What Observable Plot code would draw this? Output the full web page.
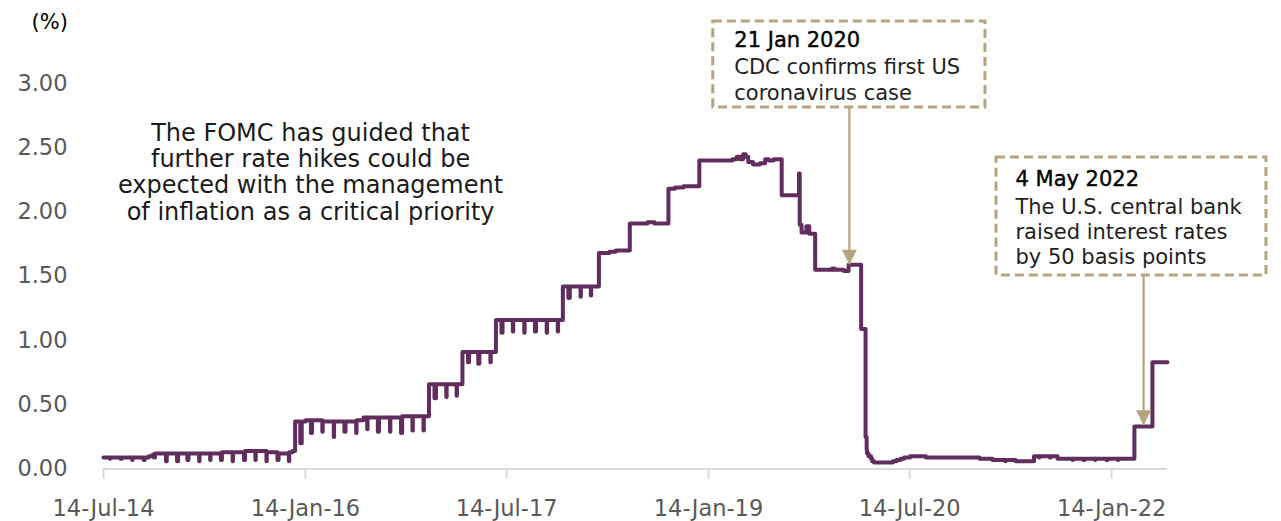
<!DOCTYPE html>
<html><head><meta charset="utf-8">
<script src="https://cdn.jsdelivr.net/npm/d3@7"></script>
<script src="https://cdn.jsdelivr.net/npm/@observablehq/plot@0.6"></script>
<style>
html,body{margin:0;padding:0;background:#fff;}
#chart svg{display:block;}
</style></head><body><div id="chart"></div>
<script>
// ---- data: effective federal funds rate (%), change points (step-after) ----
const dates = [
"2014-07-14","2014-07-31","2014-08-01","2014-08-29","2014-09-02","2014-09-30","2014-10-01","2014-10-31","2014-11-03","2014-11-14","2014-11-24","2014-11-28","2014-12-01","2014-12-31",
"2015-01-02","2015-01-30","2015-02-02","2015-02-27","2015-03-02","2015-03-31","2015-04-01","2015-04-30","2015-05-01","2015-05-29","2015-06-01","2015-06-30","2015-07-01","2015-07-31","2015-08-03","2015-08-31","2015-09-01","2015-09-30","2015-10-01","2015-10-30","2015-11-02","2015-11-30","2015-12-01","2015-12-10","2015-12-17","2015-12-31",
"2016-01-04","2016-01-15","2016-01-29","2016-02-01","2016-02-29","2016-03-01","2016-03-31","2016-04-01","2016-04-29","2016-05-02","2016-05-31","2016-06-01","2016-06-20","2016-06-30","2016-07-01","2016-07-29","2016-08-01","2016-08-31","2016-09-01","2016-09-30","2016-10-03","2016-10-31","2016-11-01","2016-11-30","2016-12-01","2016-12-15","2016-12-30",
"2017-01-03","2017-01-31","2017-02-01","2017-02-28","2017-03-01","2017-03-16","2017-03-31","2017-04-03","2017-04-28","2017-05-01","2017-05-31","2017-06-01","2017-06-15","2017-06-30","2017-07-03","2017-07-31","2017-08-01","2017-08-31","2017-09-01","2017-09-29","2017-10-02","2017-10-31","2017-11-01","2017-11-30","2017-12-01","2017-12-14","2017-12-29",
"2018-01-02","2018-01-31","2018-02-01","2018-02-28","2018-03-01","2018-03-22","2018-04-20","2018-05-07","2018-06-14","2018-08-01","2018-08-20","2018-09-27","2018-10-15","2018-11-07","2018-12-20",
"2019-03-20","2019-04-01","2019-04-10","2019-04-18","2019-04-25","2019-05-02","2019-05-15","2019-06-03","2019-06-17","2019-06-27","2019-07-10","2019-08-01","2019-09-17","2019-09-19","2019-09-24","2019-10-07","2019-10-15","2019-10-31","2019-12-16","2019-12-23",
"2020-01-17","2020-01-30","2020-03-04","2020-03-16","2020-03-19","2020-03-20","2020-03-24","2020-03-31","2020-04-03","2020-04-08","2020-05-29","2020-06-08","2020-06-19","2020-06-29","2020-07-15","2020-08-27",
"2021-01-20","2021-02-24","2021-03-31","2021-04-01","2021-04-28","2021-06-17","2021-07-01","2021-07-02","2021-07-30","2021-08-02","2021-08-20","2021-09-30","2021-10-01","2021-10-29","2021-11-01","2021-11-30","2021-12-01","2021-12-31",
"2022-01-03","2022-01-31","2022-02-01","2022-03-17","2022-05-05","2022-06-15"
];
const rates = [
0.09,0.08,0.09,0.08,0.09,0.07,0.09,0.07,0.09,0.10,0.11,0.09,0.12,0.06,
0.12,0.06,0.12,0.07,0.12,0.06,0.12,0.07,0.12,0.07,0.13,0.06,0.13,0.07,0.14,0.07,0.14,0.06,0.13,0.07,0.12,0.06,0.13,0.14,0.37,0.20,
0.37,0.38,0.28,0.38,0.29,0.37,0.25,0.37,0.29,0.37,0.28,0.38,0.40,0.31,0.40,0.29,0.40,0.29,0.40,0.28,0.41,0.30,0.41,0.30,0.41,0.66,0.55,
0.66,0.56,0.66,0.57,0.66,0.91,0.83,0.91,0.82,0.91,0.83,0.91,1.16,1.06,1.16,1.07,1.16,1.06,1.16,1.07,1.16,1.06,1.16,1.07,1.16,1.42,1.33,
1.42,1.34,1.42,1.35,1.42,1.68,1.69,1.70,1.91,1.92,1.91,2.18,2.19,2.20,2.40,
2.41,2.43,2.41,2.45,2.43,2.39,2.37,2.38,2.41,2.40,2.41,2.13,2.30,1.90,1.84,1.89,1.83,1.55,1.56,1.55,
1.54,1.59,1.09,0.25,0.15,0.12,0.10,0.08,0.06,0.05,0.06,0.07,0.08,0.09,0.10,0.09,
0.08,0.07,0.06,0.07,0.06,0.10,0.09,0.10,0.09,0.10,0.08,0.07,0.08,0.07,0.08,0.07,0.08,0.07,
0.08,0.07,0.08,0.33,0.83,0.83
];
const xTickDates = ["2014-07-14","2016-01-14","2017-07-14","2019-01-14","2020-07-14","2022-01-14"];
const yTickValues = [0, 0.5, 1, 1.5, 2, 2.5, 3];
const yUnit = "(%)";
const commentLines = ["The FOMC has guided that","further rate hikes could be","expected with the management","of inflation as a critical priority"];
const eventTitles = ["21 Jan 2020", "4 May 2022"];
const eventBodies = [["CDC confirms first US","coronavirus case"], ["The U.S. central bank","raised interest rates","by 50 basis points"]];

// ---- layout (annotation placement, in data coordinates) ----
const parse = d3.utcParse("%Y-%m-%d");
const boxLayout = [
  {x1:"2019-01-27", x2:"2021-02-05", top:3.482, bottom:2.813, arrowAt:"2020-02-01", tip:1.59, dx:21, titleDy:11, bodyDy:35},
  {x1:"2021-03-07", x2:"2023-03-11", top:2.424, bottom:1.506, arrowAt:"2022-04-11", tip:0.34, dx:19, titleDy:14, bodyDy:38.5}
];
const commentAnchor = {x:"2016-01-28", y:2.70};

const purple = "#612d5f", tan = "#b7a47c", grey = "#595959", axisGrey = "#d9d9d9";
const font = "'DejaVu Sans', sans-serif";

const series = dates.map((d, i) => ({date: parse(d), rate: rates[i]}));
const notes = boxLayout.map((b, i) => ({
  x1: parse(b.x1), x2: parse(b.x2), top: b.top, bottom: b.bottom,
  ax: parse(b.arrowAt), tip: b.tip, title: eventTitles[i], body: eventBodies[i].join("\n"), b
}));

const downTriangle = {draw(ctx) { ctx.moveTo(0, 0); ctx.lineTo(-7.5, -15); ctx.lineTo(7.5, -15); ctx.closePath(); }};

const noteMarks = notes.flatMap(n => [
  Plot.rect([n], {x1:"x1", x2:"x2", y1:"bottom", y2:"top", fill:"white", stroke:tan, strokeWidth:3, strokeDasharray:"9,5"}),
  Plot.ruleX([n], {x:"ax", y1:"bottom", y2:"tip", stroke:tan, strokeWidth:2.2}),
  Plot.dot([n], {x:"ax", y:"tip", symbol: downTriangle, fill:tan, stroke:"none", r:6}),
  Plot.text([n], {x:"x1", y:"top", text:"title", dx:n.b.dx, dy:n.b.titleDy, textAnchor:"start", lineAnchor:"top", fontSize:21, fill:"#000", stroke:"#000", strokeWidth:0.4, fontFamily:font}),
  Plot.text([n], {x:"x1", y:"top", text:"body", dx:n.b.dx, dy:n.b.bodyDy, textAnchor:"start", lineAnchor:"top", lineHeight:1.2, fontSize:21, fill:"#1e1e1e", fontFamily:font})
]);

const plot = Plot.plot({
  width: 1281, height: 521,
  marginLeft: 103, marginRight: 114, marginTop: 83, marginBottom: 52.5,
  style: {fontFamily: font, background: "#fff", overflow: "visible"},
  x: {type: "utc", domain: [parse("2014-07-14"), parse("2022-06-15")], label: null},
  y: {domain: [0, 3], label: null},
  marks: [
    Plot.ruleY([0], {stroke: axisGrey, strokeWidth: 2}),
    Plot.axisX({ticks: xTickDates.map(parse), tickFormat: d3.utcFormat("%d-%b-%y"), tickSize: 10, tickPadding: 21,
      stroke: axisGrey, strokeWidth: 2, fill: grey, fontSize: 22.5, label: null}),
    Plot.axisY({ticks: yTickValues, tickFormat: d3.format(".2f"), tickSize: 0, tickPadding: 36,
      fill: grey, stroke: "none", fontSize: 22.5, label: null}),
    Plot.line(series, {x: "date", y: "rate", curve: "step-after", stroke: purple, strokeWidth: 4, strokeLinejoin: "round", strokeLinecap: "round"}),
    Plot.text([yUnit], {frameAnchor: "top-left", dx: -72, dy: -61, textAnchor: "start", lineAnchor: "middle", fontSize: 21, fill: "#000"}),
    Plot.text([{x: parse(commentAnchor.x), y: commentAnchor.y, t: commentLines.join("\n")}],
      {x: "x", y: "y", text: "t", textAnchor: "middle", lineAnchor: "top", lineHeight: 26.3/24, fontSize: 24, fill: "#1a1a1a"}),
    ...noteMarks
  ]
});
document.getElementById("chart").appendChild(plot);
</script></body></html>
